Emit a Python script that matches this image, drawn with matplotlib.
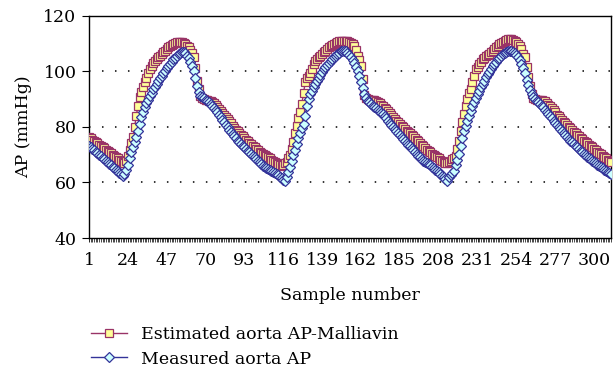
import matplotlib
matplotlib.use("Agg")
import matplotlib.pyplot as plt
import numpy as np

plt.rcParams["font.family"] = ["DejaVu Serif"]

# 数据：每个采样点的主动脉压 (mmHg)
measured = [
    73.2, 72.6, 72.1, 71.5, 71.0, 70.4, 69.9, 69.4, 68.8, 68.3,
    67.8, 67.2, 66.7, 66.1, 65.6, 65.0, 64.5, 64.0, 63.5, 62.9,
    62.4, 63.0, 64.4, 66.4, 68.6, 70.8, 72.6, 74.4, 76.2, 78.6,
    81.0, 83.4, 85.4, 87.2, 88.6, 89.8, 91.0, 92.2, 93.4, 94.4,
    95.4, 96.4, 97.4, 98.4, 99.4, 100.2, 101.0, 101.8, 102.6, 103.4,
    104.2, 104.9, 105.6, 106.2, 106.7, 106.9, 106.8, 106.4, 105.6, 104.6,
    103.4, 101.8, 100.0, 97.6, 94.8, 92.6, 91.2, 90.6, 90.2, 89.8,
    89.4, 88.8, 88.2, 87.5, 86.7, 86.0, 85.2, 84.3, 83.4, 82.5,
    81.6, 80.7, 79.8, 79.0, 78.2, 77.4, 76.6, 75.8, 75.0, 74.4,
    73.8, 73.2, 72.6, 72.0, 71.4, 70.8, 70.2, 69.6, 69.0, 68.4,
    67.8, 67.2, 66.6, 66.0, 65.6, 65.2, 64.8, 64.4, 64.0, 63.6,
    63.3, 63.0, 62.5, 62.0, 61.5, 61.0, 60.6, 62.0, 63.6, 65.4,
    67.6, 69.8, 71.8, 73.8, 75.8, 77.6, 79.4, 81.0, 84.0, 87.4,
    90.0, 91.6, 93.0, 94.2, 95.4, 96.6, 97.6, 98.6, 99.6, 100.6,
    101.4, 102.2, 103.0, 103.8, 104.4, 105.0, 105.6, 106.2, 106.7, 107.1,
    107.4, 107.4, 107.1, 106.6, 105.8, 105.0, 104.0, 102.8, 101.6, 100.2,
    98.4, 96.2, 93.8, 91.6, 90.2, 89.4, 88.8, 88.2, 87.6, 87.1,
    86.6, 86.1, 85.6, 85.1, 84.6, 83.8, 83.0, 82.2, 81.4, 80.6,
    79.8, 79.1, 78.4, 77.7, 77.0, 76.3, 75.6, 75.0, 74.3, 73.6,
    73.0, 72.3, 71.6, 70.9, 70.2, 69.6, 69.0, 68.4, 67.8, 67.4,
    67.0, 66.6, 66.1, 65.6, 65.1, 64.6, 64.1, 63.6, 63.0, 62.4,
    61.8, 61.2, 60.6, 61.8, 62.6, 63.4, 64.2, 66.2, 68.2, 70.2,
    73.0, 75.8, 78.6, 80.4, 82.2, 84.0, 85.8, 87.4, 89.0, 90.4,
    91.8, 93.0, 94.2, 95.4, 96.6, 97.8, 98.8, 99.8, 100.8, 101.7,
    102.6, 103.4, 104.2, 104.9, 105.6, 106.2, 106.6, 107.0, 107.3, 107.4,
    107.3, 107.0, 106.5, 105.8, 105.0, 104.0, 102.6, 101.0, 99.2, 96.8,
    95.0, 93.2, 91.8, 90.8, 90.0, 89.4, 88.8, 88.2, 87.6, 87.0,
    86.2, 85.4, 84.6, 83.8, 83.0, 82.2, 81.5, 80.7, 80.0, 79.2,
    78.5, 77.7, 77.0, 76.2, 75.6, 75.0, 74.4, 73.8, 73.2, 72.6,
    72.0, 71.4, 70.8, 70.3, 69.8, 69.3, 68.8, 68.3, 67.8, 67.4,
    66.9, 66.4, 65.9, 65.5, 65.0, 64.6, 64.2, 63.8, 63.4, 63.0,
]

estimated = [
    76.2, 75.8, 75.3, 74.9, 74.4, 74.0, 73.5, 73.1, 72.6, 72.2,
    71.7, 71.3, 70.8, 70.4, 69.9, 69.5, 69.0, 68.6, 68.2, 67.7,
    67.3, 67.0, 67.6, 69.4, 71.6, 74.0, 76.4, 80.0, 84.0, 87.6,
    90.6, 92.6, 94.4, 96.0, 97.6, 99.2, 100.8, 101.8, 102.8, 103.6,
    104.4, 105.0, 105.6, 106.2, 106.8, 107.4, 108.0, 108.5, 109.0, 109.4,
    109.8, 110.1, 110.3, 110.4, 110.4, 110.3, 110.1, 109.7, 109.2, 108.6,
    107.6, 106.4, 105.0, 101.0, 96.6, 93.6, 91.2, 90.4, 90.0, 89.8,
    89.6, 89.4, 89.2, 89.0, 88.6, 87.9, 87.2, 86.5, 85.8, 85.1,
    84.4, 83.6, 82.8, 82.0, 81.2, 80.4, 79.6, 79.0, 78.4, 77.8,
    77.2, 76.6, 76.0, 75.4, 74.8, 74.2, 73.7, 73.2, 72.6, 72.1,
    71.6, 71.0, 70.6, 70.2, 69.8, 69.4, 69.0, 68.6, 68.2, 67.8,
    67.4, 67.0, 66.6, 66.3, 66.0, 66.2, 66.8, 67.4, 68.6, 70.0,
    72.0, 74.6, 77.6, 80.4, 83.0, 85.4, 88.2, 92.0, 96.0, 97.4,
    98.4, 99.4, 100.8, 102.6, 103.6, 104.4, 105.0, 105.6, 106.2, 106.8,
    107.4, 108.0, 108.5, 109.0, 109.4, 109.8, 110.2, 110.5, 110.8, 111.0,
    111.0, 111.0, 110.9, 110.7, 110.4, 110.1, 109.8, 109.0, 107.6, 105.6,
    104.0, 102.0, 97.0, 91.4, 90.2, 90.0, 89.8, 89.7, 89.6, 89.5,
    89.4, 88.9, 88.4, 87.9, 87.4, 86.9, 86.4, 85.7, 85.0, 84.3,
    83.6, 82.9, 82.2, 81.6, 81.0, 80.4, 79.8, 79.2, 78.6, 78.1,
    77.6, 77.1, 76.6, 76.0, 75.4, 74.8, 74.2, 73.6, 73.0, 72.4,
    71.8, 71.3, 70.8, 70.3, 69.8, 69.4, 69.0, 68.6, 68.1, 67.6,
    67.2, 66.8, 66.8, 67.2, 67.8, 68.4, 68.8, 69.6, 72.0, 75.0,
    78.4, 81.8, 84.6, 87.4, 90.0, 92.0, 93.6, 96.0, 98.4, 100.6,
    101.6, 102.6, 103.4, 104.2, 104.8, 105.4, 105.8, 106.2, 106.8, 107.4,
    108.0, 108.6, 109.2, 109.8, 110.2, 110.6, 111.0, 111.3, 111.5, 111.6,
    111.5, 111.3, 110.9, 110.4, 109.8, 109.0, 107.8, 106.2, 105.0, 101.4,
    97.8, 94.8, 91.8, 90.4, 89.9, 89.7, 89.6, 89.5, 89.5, 89.4,
    89.4, 88.7, 88.0, 87.3, 86.6, 85.9, 85.2, 84.4, 83.7, 83.0,
    82.4, 81.8, 81.2, 80.6, 80.0, 79.4, 78.8, 78.2, 77.6, 77.0,
    76.5, 76.0, 75.5, 75.0, 74.5, 74.0, 73.5, 73.0, 72.6, 72.1,
    71.6, 71.1, 70.6, 70.1, 69.6, 69.1, 68.6, 68.2, 67.8, 67.4,
]

x_ticks = [1, 24, 47, 70, 93, 116, 139, 162, 185, 208, 231, 254, 277, 300]
y_ticks = [40, 60, 80, 100, 120]

fig = plt.figure(figsize=(6.13, 3.72), dpi=100)
ax = fig.add_axes([0.1452, 0.3602, 0.8515, 0.5981])

samples = np.arange(1, len(measured) + 1)
ax.plot(samples, estimated, color="#993366", lw=1, marker="s", ms=5.2,
        mfc="#FFFF99", mec="#993366", mew=0.9,
        label="Estimated aorta AP-Malliavin", zorder=3)
ax.plot(samples, measured, color="#333399", lw=1, marker="D", ms=4.6,
        mfc="#CCFFFF", mec="#333399", mew=0.9,
        label="Measured aorta AP", zorder=4)

ax.set_xlim(1, len(measured))
ax.set_ylim(40, 120)
ax.set_xticks(x_ticks)
ax.set_xticks(samples, minor=True)
ax.set_yticks(y_ticks)
ax.tick_params(axis="x", which="major", length=3, width=0.6, pad=7, labelsize=12.5)
ax.tick_params(axis="x", which="minor", length=3, width=0.5)
ax.tick_params(axis="y", length=5, width=0.8, pad=4, labelsize=12.5)

for v in [60, 80, 100]:
    ax.axhline(v, color="black", lw=1.1, ls=(0, (1, 7.5)), zorder=1)

for s in ax.spines.values():
    s.set_linewidth(1.0)

ax.set_xlabel("Sample number", fontsize=12.5, labelpad=13)
ax.set_ylabel("AP (mmHg)", fontsize=12.5, labelpad=8)

leg = fig.legend(loc="upper left", bbox_to_anchor=(0.137, 0.143),
                 frameon=False, fontsize=12.5, handlelength=2.1,
                 handletextpad=0.8, labelspacing=0.45, borderaxespad=0)

plt.savefig("out.png", dpi=100)
